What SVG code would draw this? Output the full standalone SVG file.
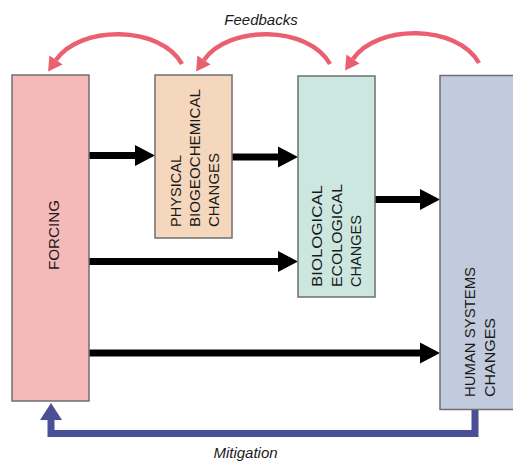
<svg xmlns="http://www.w3.org/2000/svg" width="513" height="462" viewBox="0 0 513 462">
<style>
.box{stroke:#6f6f6f;stroke-width:1.5}
.lbl{font-family:"Liberation Sans",Arial,sans-serif;font-size:15px;fill:#1a1a1a}
.cap{font-family:"Liberation Sans",Arial,sans-serif;font-size:15px;font-style:italic;fill:#1a1a1a;text-anchor:middle}
.blk{stroke:#000;stroke-width:7;fill:none}
.fb{stroke:#ea6071;stroke-width:4.5;fill:none}
.mit{stroke:#4b4f95;stroke-width:7;fill:none;stroke-linejoin:miter}
</style>
<defs>
<marker id="hb" markerUnits="userSpaceOnUse" markerWidth="20" markerHeight="21" refX="0" refY="10.5" orient="auto" overflow="visible">
<path d="M0,0 L20,10.5 L0,21 z" fill="#000"/>
</marker>
<marker id="hf" markerUnits="userSpaceOnUse" markerWidth="14" markerHeight="16" refX="0" refY="8" orient="auto" overflow="visible">
<path d="M0,0 L14,8 L0,16 z" fill="#ea6071"/>
</marker>
<marker id="hm" markerUnits="userSpaceOnUse" markerWidth="17" markerHeight="22" refX="0" refY="11" orient="auto" overflow="visible">
<path d="M0,0 L17,11 L0,22 z" fill="#4b4f95"/>
</marker>
</defs>

<g id="connectors">
<line class="blk" x1="89" y1="155.5" x2="135" y2="155.5" marker-end="url(#hb)"/>
<line class="blk" x1="232" y1="157" x2="278" y2="157" marker-end="url(#hb)"/>
<line class="blk" x1="375" y1="199.5" x2="420" y2="199.5" marker-end="url(#hb)"/>
<line class="blk" x1="89" y1="261.5" x2="278" y2="261.5" marker-end="url(#hb)"/>
<line class="blk" x1="89" y1="353" x2="420" y2="353" marker-end="url(#hb)"/>
<path class="fb" d="M182,64 C160,25 80,25 56,60" marker-end="url(#hf)"/>
<path class="fb" d="M330,64 C308,25 228,25 204,60" marker-end="url(#hf)"/>
<path class="fb" d="M479,63 C457,24 377,24 353,59" marker-end="url(#hf)"/>
<path class="mit" d="M475,410 L475,433.5 L51,433.5 L51,420" marker-end="url(#hm)"/>
<text class="cap" x="261" y="25">Feedbacks</text>
<text class="cap" x="245.5" y="458">Mitigation</text>
</g>

<g id="forcing">
<rect class="box" x="12" y="75" width="77" height="326" fill="#f6b9b9"/>
<text class="lbl" transform="translate(59,270) rotate(-90)" textLength="70" lengthAdjust="spacingAndGlyphs">FORCING</text>
</g>

<g id="physical">
<rect class="box" x="155" y="75" width="77" height="163" fill="#f5d7bd"/>
<text class="lbl" transform="translate(181,227) rotate(-90)" textLength="72" lengthAdjust="spacingAndGlyphs">PHYSICAL</text>
<text class="lbl" transform="translate(200,227) rotate(-90)" textLength="138" lengthAdjust="spacingAndGlyphs">BIOGEOCHEMICAL</text>
<text class="lbl" transform="translate(219,227) rotate(-90)" textLength="74" lengthAdjust="spacingAndGlyphs">CHANGES</text>
</g>

<g id="biological">
<rect class="box" x="298" y="76" width="77" height="221" fill="#cce6e0"/>
<text class="lbl" transform="translate(322,287) rotate(-90)" textLength="102" lengthAdjust="spacingAndGlyphs">BIOLOGICAL</text>
<text class="lbl" transform="translate(342,287) rotate(-90)" textLength="103" lengthAdjust="spacingAndGlyphs">ECOLOGICAL</text>
<text class="lbl" transform="translate(361,287) rotate(-90)" textLength="72" lengthAdjust="spacingAndGlyphs">CHANGES</text>
</g>

<g id="human">
<rect class="box" x="440" y="75.5" width="76" height="334" fill="#c2cbdd"/>
<text class="lbl" transform="translate(475,397) rotate(-90)" textLength="130" lengthAdjust="spacingAndGlyphs">HUMAN SYSTEMS</text>
<text class="lbl" transform="translate(495,397) rotate(-90)" textLength="79" lengthAdjust="spacingAndGlyphs">CHANGES</text>
</g>
</svg>
